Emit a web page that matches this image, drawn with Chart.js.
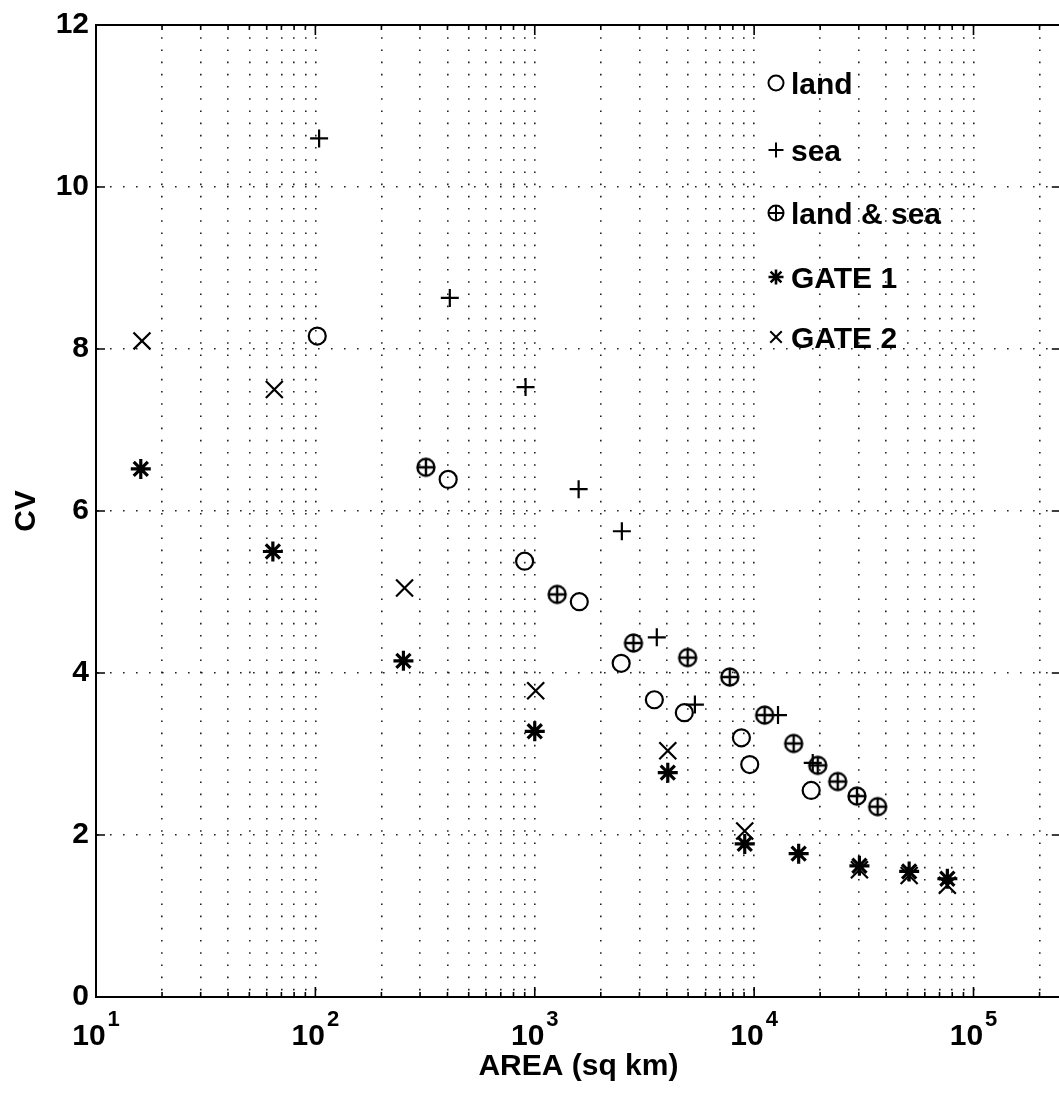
<!DOCTYPE html>
<html>
<head>
<meta charset="utf-8">
<title>CV vs AREA</title>
<script src="https://cdn.jsdelivr.net/npm/chart.js@4.4.1/dist/chart.umd.min.js"></script>
<style>
  html, body { margin: 0; padding: 0; background: #fff; overflow: hidden; }
  #wrap { width: 1059px; height: 1094px; overflow: hidden; }
</style>
</head>
<body>
<div id="wrap"><canvas id="cvChart" width="1075" height="1094"></canvas></div>
<script>
// values (area in sq km, CV)
const landArea = [102, 403, 899, 1596, 2477, 3509, 4806, 8750, 9550, 18200];
const landCV   = [8.16, 6.39, 5.38, 4.88, 4.12, 3.67, 3.51, 3.20, 2.87, 2.55];

const seaArea = [104, 410, 908, 1585, 2495, 3600, 5370, 12850, 18500];
const seaCV   = [10.60, 8.63, 7.53, 6.27, 5.75, 4.44, 3.61, 3.48, 2.89];

const bothArea = [319, 1265, 2818, 4977, 7745, 11170, 15140, 19500, 24040, 29440, 36560];
const bothCV   = [6.54, 4.97, 4.37, 4.19, 3.95, 3.48, 3.13, 2.86, 2.66, 2.48, 2.35];

const gate1Area = [16, 64, 252, 1000, 4040, 9060, 15960, 30200, 50900, 76000];
const gate1CV   = [6.52, 5.50, 4.15, 3.28, 2.77, 1.89, 1.77, 1.62, 1.55, 1.46];

const gate2Area = [16.2, 65, 255, 1010, 4040, 9060, 30200, 50900, 76000];
const gate2CV   = [8.10, 7.50, 5.05, 3.78, 3.04, 2.05, 1.57, 1.50, 1.38];

const seriesLabels = ['land', 'sea', 'land & sea', 'GATE 1', 'GATE 2'];
const xMajorTicks = [10, 100, 1000, 10000, 100000];
const yTicks = [0, 2, 4, 6, 8, 10, 12];
const xMin = 10, xMax = 250000;

const FONT = "'Liberation Sans', Arial, Helvetica, sans-serif";
Chart.defaults.font.family = FONT;
Chart.defaults.color = '#000';

// all log grid positions 1..9 x 10^n
const xGridValues = [];
for (let e = 1; e <= 5; e++) {
  for (let m = 1; m <= 9; m++) {
    const v = m * Math.pow(10, e);
    if (v <= xMax) xGridValues.push(v);
  }
}

function pts(xs, ys) {
  return xs.map((x, i) => ({x: x, y: ys[i]}));
}

// circle with a plus inside, for land & sea
function circlePlus(size, r, lw) {
  const c = document.createElement('canvas');
  c.width = size; c.height = size;
  const g = c.getContext('2d');
  const m = size / 2;
  g.strokeStyle = '#000';
  g.lineWidth = lw;
  g.beginPath(); g.arc(m, m, r, 0, Math.PI * 2); g.stroke();
  g.beginPath();
  g.moveTo(m - r, m); g.lineTo(m + r, m);
  g.moveTo(m, m - r); g.lineTo(m, m + r);
  g.stroke();
  return c;
}

function drawMark(ctx, kind, x, y, r) {
  ctx.beginPath();
  if (kind === 'circle' || kind === 'circlePlus') {
    ctx.arc(x, y, r, 0, Math.PI * 2);
  }
  if (kind === 'cross' || kind === 'circlePlus' || kind === 'star') {
    ctx.moveTo(x - r, y); ctx.lineTo(x + r, y);
    ctx.moveTo(x, y - r); ctx.lineTo(x, y + r);
  }
  if (kind === 'crossRot' || kind === 'star') {
    const d = r * 0.72;
    ctx.moveTo(x - d, y - d); ctx.lineTo(x + d, y + d);
    ctx.moveTo(x - d, y + d); ctx.lineTo(x + d, y - d);
  }
  ctx.stroke();
}

const legendKinds = ['circle', 'cross', 'circlePlus', 'star', 'crossRot'];
const legendRows = [83, 150, 213, 277, 337];

// box top line, inward ticks on all sides
const boxTicks = {
  id: 'boxTicks',
  beforeDatasetsDraw(chart) {
    const {ctx, chartArea: a} = chart;
    const xs = chart.scales.x, ys = chart.scales.y;
    ctx.save();
    ctx.strokeStyle = '#000';
    ctx.lineWidth = 2;
    ctx.beginPath();
    ctx.moveTo(a.left - 1, a.top); ctx.lineTo(a.right, a.top);
    ctx.moveTo(a.right, a.top); ctx.lineTo(a.right, a.bottom);
    ctx.stroke();
    ctx.lineWidth = 1.6;
    ctx.beginPath();
    xGridValues.forEach(v => {
      const px = xs.getPixelForValue(v);
      const len = xMajorTicks.includes(v) ? 10 : 5;
      ctx.moveTo(px, a.bottom); ctx.lineTo(px, a.bottom - len);
      ctx.moveTo(px, a.top); ctx.lineTo(px, a.top + len);
    });
    yTicks.forEach(v => {
      const py = ys.getPixelForValue(v);
      ctx.moveTo(a.left, py); ctx.lineTo(a.left + 9, py);
      ctx.moveTo(a.right, py); ctx.lineTo(a.right - 9, py);
    });
    ctx.stroke();
    ctx.restore();
  },
  afterDraw(chart) {
    const ctx = chart.ctx;
    const xs = chart.scales.x;
    ctx.save();
    ctx.fillStyle = '#000';
    ctx.textBaseline = 'alphabetic';
    // 10^n labels with raised exponent
    xMajorTicks.forEach(v => {
      const px = xs.getPixelForValue(v);
      const exp = String(Math.round(Math.log10(v)));
      ctx.font = 'bold 30px ' + FONT;
      const w1 = ctx.measureText('10').width;
      ctx.font = 'bold 22px ' + FONT;
      const w2 = ctx.measureText(exp).width;
      const x0 = px - (w1 + 2 + w2) / 2;
      ctx.font = 'bold 30px ' + FONT;
      ctx.fillText('10', x0, 1045);
      ctx.font = 'bold 22px ' + FONT;
      ctx.fillText(exp, x0 + w1 + 2, 1026);
    });
    // legend inside the plot
    chart.data.datasets.forEach((ds, i) => {
      const y = legendRows[i];
      ctx.strokeStyle = '#000';
      ctx.lineWidth = legendKinds[i] === 'star' ? 2.6 : 2;
      const r = legendKinds[i] === 'crossRot' ? 8 : 7.5;
      drawMark(ctx, legendKinds[i], 776, y, r);
      ctx.font = 'bold 30px ' + FONT;
      ctx.fillText(ds.label, 791, y + 11);
    });
    ctx.restore();
  }
};

function gridColor(ctx, edges) {
  return edges.includes(ctx.tick && ctx.tick.value) ? 'rgba(0,0,0,0)' : '#222';
}

new Chart(document.getElementById('cvChart'), {
  type: 'scatter',
  data: {
    datasets: [{
      label: seriesLabels[0],
      data: pts(landArea, landCV),
      pointStyle: 'circle',
      pointRadius: 8.5,
      pointBorderWidth: 2.2
    }, {
      label: seriesLabels[1],
      data: pts(seaArea, seaCV),
      pointStyle: 'cross',
      pointRadius: 9,
      pointBorderWidth: 2.2
    }, {
      label: seriesLabels[2],
      data: pts(bothArea, bothCV),
      pointStyle: circlePlus(24, 8.5, 2.4),
      pointRadius: 9,
      pointBorderWidth: 2
    }, {
      label: seriesLabels[3],
      data: pts(gate1Area, gate1CV),
      pointStyle: 'star',
      pointRadius: 10,
      pointBorderWidth: 3.2
    }, {
      label: seriesLabels[4],
      data: pts(gate2Area, gate2CV),
      pointStyle: 'crossRot',
      pointRadius: 12,
      pointBorderWidth: 2.2
    }]
  },
  options: {
    responsive: false,
    animation: false,
    events: [],
    devicePixelRatio: 1,
    elements: {
      point: {
        borderColor: '#000',
        backgroundColor: 'rgba(0,0,0,0)'
      }
    },
    layout: {
      padding: {left: 0, right: 11, top: 21, bottom: 0}
    },
    plugins: {
      legend: {display: false},
      tooltip: {enabled: false}
    },
    scales: {
      x: {
        type: 'logarithmic',
        min: xMin,
        max: xMax,
        afterBuildTicks(scale) {
          scale.ticks = xGridValues.map(v => ({value: v, major: xMajorTicks.includes(v)}));
        },
        afterFit(scale) {
          scale.height = 97;
        },
        ticks: {display: false, autoSkip: false},
        grid: {
          color: ctx => gridColor(ctx, [xMin]),
          lineWidth: 1.6,
          drawTicks: false
        },
        border: {display: true, color: '#000', width: 2, dash: [1.6, 10.6]},
        title: {
          display: true,
          text: 'AREA (sq km)',
          font: {size: 30, weight: 'bold'},
          padding: {top: 0, bottom: 9}
        }
      },
      y: {
        min: 0,
        max: 12,
        afterBuildTicks(scale) {
          scale.ticks = yTicks.map(v => ({value: v}));
        },
        afterFit(scale) {
          scale.width = 96;
        },
        ticks: {font: {size: 30, weight: 'bold'}, padding: 7},
        grid: {
          color: ctx => gridColor(ctx, [0, 12]),
          lineWidth: 1.6,
          drawTicks: false
        },
        border: {display: true, color: '#000', width: 2, dash: [1.6, 11.4]},
        title: {
          display: true,
          text: 'CV',
          font: {size: 30, weight: 'bold'},
          padding: {top: 9, bottom: 0}
        }
      }
    }
  },
  plugins: [boxTicks]
});
</script>
</body>
</html>
